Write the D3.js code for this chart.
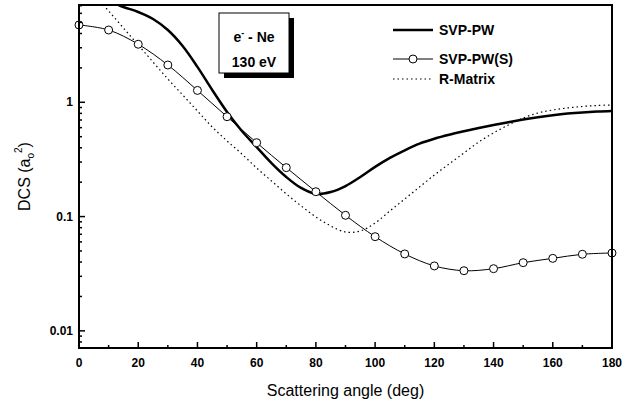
<!DOCTYPE html>
<html>
<head>
<meta charset="utf-8">
<script src="https://cdn.jsdelivr.net/npm/d3@7"></script>
<style>
  body { margin: 0; background: #fff; }
  svg { font-family: 'Liberation Sans', Arial, sans-serif; }
</style>
</head>
<body>
<svg id="chart" width="630" height="405"></svg>
<script>
// Angles (deg) for the curves
const anglesFine = d3.range(0, 181, 5);
const anglesS = d3.range(0, 181, 10);

// SVP-PW (thick solid)
const svpPw = [8.6, 8.3, 7.7, 6.82, 6.17, 5.35, 4.29, 3.11, 2.04, 1.28, 0.822, 0.561,
  0.406, 0.294, 0.222, 0.178, 0.158, 0.164, 0.185, 0.222, 0.272, 0.326, 0.38, 0.435,
  0.48, 0.52, 0.557, 0.595, 0.633, 0.67, 0.706, 0.74, 0.77, 0.796, 0.816, 0.831, 0.841];

// SVP-PW(S) (thin line with open circles)
const svpPwS = [4.75, 4.29, 3.22, 2.12, 1.27, 0.748, 0.443, 0.268, 0.165, 0.1026,
  0.0667, 0.0471, 0.037, 0.0336, 0.035, 0.0395, 0.0431, 0.0468, 0.048];

// R-Matrix (dotted)
const rMatrix = [12.2, 8.85, 6.3, 4.47, 3.17, 2.25, 1.6, 1.16, 0.839, 0.608, 0.459, 0.353,
  0.266, 0.205, 0.158, 0.124, 0.0993, 0.0828, 0.0733, 0.0748, 0.0879, 0.112, 0.1426,
  0.1815, 0.231, 0.289, 0.36, 0.449, 0.539, 0.633, 0.729, 0.806, 0.857, 0.892, 0.919,
  0.938, 0.947];

const xTicks = d3.range(0, 181, 20);
const xMinorTicks = d3.range(10, 180, 20);
const yTicks = [0.01, 0.1, 1];
const yTickLabels = ['0.01', '0.1', '1'];

const margin = { top: 5, right: 18, bottom: 57, left: 79 };
const width = 630 - margin.left - margin.right;
const height = 405 - margin.top - margin.bottom;

const svg = d3.select('#chart');
const g = svg.append('g').attr('transform', `translate(${margin.left},${margin.top})`);

const x = d3.scaleLinear().domain([0, 180]).range([0, width]);
const y = d3.scaleLog().domain([0.00708, 7.1]).range([height, 0]);

// minor ticks on the log axis: 2..9 of every decade inside the domain
const yMinorTicks = [];
[0.001, 0.01, 0.1, 1].forEach((dec) => {
  d3.range(2, 10).forEach((k) => {
    const v = dec * k;
    if (v >= y.domain()[0] && v <= y.domain()[1]) yMinorTicks.push(v);
  });
});

// clip curves to the frame
g.append('clipPath').attr('id', 'clip')
  .append('rect').attr('width', width).attr('height', height);

const plot = g.append('g').attr('clip-path', 'url(#clip)');

const line = (xs, ys, curve) => d3.line()
  .x((d, i) => x(xs[i]))
  .y((d) => y(d))
  .curve(curve)(ys);

// R-Matrix dotted
plot.append('path')
  .attr('d', line(anglesFine, rMatrix, d3.curveCatmullRom))
  .attr('fill', 'none')
  .attr('stroke', '#000')
  .attr('stroke-width', 1.2)
  .attr('stroke-dasharray', '1.5,3');

// SVP-PW(S) thin line
plot.append('path')
  .attr('d', line(anglesS, svpPwS, d3.curveCatmullRom))
  .attr('fill', 'none')
  .attr('stroke', '#000')
  .attr('stroke-width', 1);

// SVP-PW thick line
plot.append('path')
  .attr('d', line(anglesFine, svpPw, d3.curveCatmullRom))
  .attr('fill', 'none')
  .attr('stroke', '#000')
  .attr('stroke-width', 2.5);

// SVP-PW(S) markers
g.selectAll('.marker')
  .data(svpPwS)
  .join('circle')
  .attr('class', 'marker')
  .attr('cx', (d, i) => x(anglesS[i]))
  .attr('cy', (d) => y(d))
  .attr('r', 4)
  .attr('fill', '#fff')
  .attr('stroke', '#000')
  .attr('stroke-width', 1);

// frame
g.append('rect')
  .attr('width', width)
  .attr('height', height)
  .attr('fill', 'none')
  .attr('stroke', '#000')
  .attr('stroke-width', 2);

// x ticks (inward)
g.selectAll('.xtick')
  .data(xTicks)
  .join('line')
  .attr('x1', (d) => x(d)).attr('x2', (d) => x(d))
  .attr('y1', height).attr('y2', height - 6)
  .attr('stroke', '#000').attr('stroke-width', 1.5);

g.selectAll('.xminor')
  .data(xMinorTicks)
  .join('line')
  .attr('x1', (d) => x(d)).attr('x2', (d) => x(d))
  .attr('y1', height).attr('y2', height - 3)
  .attr('stroke', '#000').attr('stroke-width', 1.5);

g.selectAll('.xlabel')
  .data(xTicks)
  .join('text')
  .attr('x', (d) => x(d))
  .attr('y', height + 19)
  .attr('text-anchor', 'middle')
  .style('font-size', '12px')
  .style('font-weight', 'bold')
  .text((d) => d);

// y ticks (inward)
g.selectAll('.ytick')
  .data(yTicks)
  .join('line')
  .attr('x1', 0).attr('x2', 6)
  .attr('y1', (d) => y(d)).attr('y2', (d) => y(d))
  .attr('stroke', '#000').attr('stroke-width', 1.5);

g.selectAll('.yminor')
  .data(yMinorTicks)
  .join('line')
  .attr('x1', 0).attr('x2', 3)
  .attr('y1', (d) => y(d)).attr('y2', (d) => y(d))
  .attr('stroke', '#000').attr('stroke-width', 1.5);

g.selectAll('.ylabel')
  .data(yTicks)
  .join('text')
  .attr('x', -6)
  .attr('y', (d) => y(d) + 4)
  .attr('text-anchor', 'end')
  .style('font-size', '12px')
  .style('font-weight', 'bold')
  .text((d, i) => yTickLabels[i]);

// axis titles
svg.append('text')
  .attr('x', margin.left + width / 2)
  .attr('y', 396)
  .attr('text-anchor', 'middle')
  .style('font-size', '16px')
  .text('Scattering angle (deg)');

const yTitle = svg.append('text')
  .attr('transform', `translate(30,${margin.top + height / 2}) rotate(-90)`)
  .attr('text-anchor', 'middle')
  .style('font-size', '16px');
yTitle.append('tspan').text('DCS (a');
yTitle.append('tspan').attr('dy', 4).style('font-size', '10px').text('o');
yTitle.append('tspan').attr('dy', -12).style('font-size', '10px').text('2');
yTitle.append('tspan').attr('dy', 8).text(')');

// info box with shadow
const box = { x: 219, y: 13, w: 70, h: 60 };
svg.append('rect')
  .attr('x', box.x + 5).attr('y', box.y + 5)
  .attr('width', box.w).attr('height', box.h)
  .attr('fill', '#000');
svg.append('rect')
  .attr('x', box.x).attr('y', box.y)
  .attr('width', box.w).attr('height', box.h)
  .attr('fill', '#fff').attr('stroke', '#000').attr('stroke-width', 1);

const t1 = svg.append('text')
  .attr('x', box.x + box.w / 2).attr('y', box.y + 29)
  .attr('text-anchor', 'middle')
  .style('font-size', '14px').style('font-weight', 'bold');
t1.append('tspan').text('e');
t1.append('tspan').attr('dy', -6).style('font-size', '9px').text('-');
t1.append('tspan').attr('dy', 6).text(' - Ne');

svg.append('text')
  .attr('x', box.x + box.w / 2).attr('y', box.y + 54)
  .attr('text-anchor', 'middle')
  .style('font-size', '14px').style('font-weight', 'bold')
  .text('130 eV');

// legend
const legend = [
  { label: 'SVP-PW', width: 2.5, dash: null, marker: false, y: 30 },
  { label: 'SVP-PW(S)', width: 1, dash: null, marker: true, y: 59 },
  { label: 'R-Matrix', width: 1.2, dash: '1.5,3', marker: false, y: 79 },
];
const lg = svg.append('g');
legend.forEach((d) => {
  lg.append('line')
    .attr('x1', 393).attr('x2', 433)
    .attr('y1', d.y).attr('y2', d.y)
    .attr('stroke', '#000')
    .attr('stroke-width', d.width)
    .attr('stroke-dasharray', d.dash);
  if (d.marker) {
    lg.append('circle')
      .attr('cx', 413).attr('cy', d.y).attr('r', 4)
      .attr('fill', '#fff').attr('stroke', '#000');
  }
  lg.append('text')
    .attr('x', 439).attr('y', d.y + 5)
    .style('font-size', '14px').style('font-weight', 'bold')
    .text(d.label);
});
</script>
</body>
</html>
